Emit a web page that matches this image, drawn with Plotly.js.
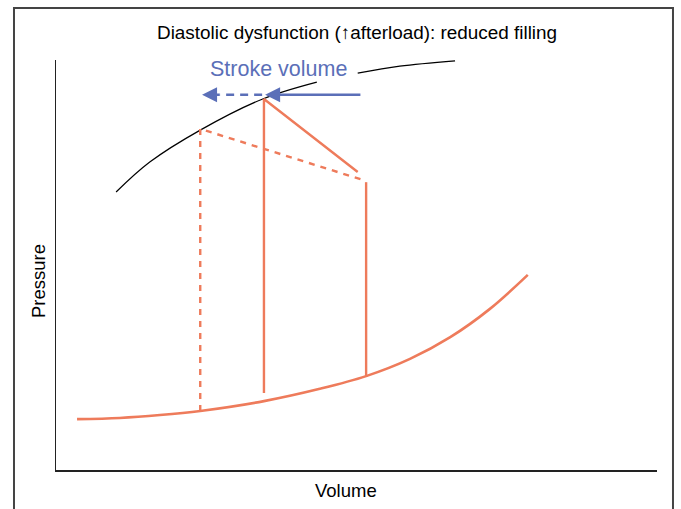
<!DOCTYPE html>
<html>
<head>
<meta charset="utf-8">
<script src="https://cdn.plot.ly/plotly-3.0.1.min.js"></script>
<style>html,body{margin:0;padding:0;background:#fff;}#chart{width:681px;height:509px;}</style>
</head>
<body>
<div id="chart"></div>
<script>
// End-diastolic pressure-volume relation (orange curve)
var edpvrVolume   = [3.5, 10.6, 17.3, 24.0, 34.6, 43.9, 51.6, 58.9, 65.6, 72.2, 78.5];
var edpvrPressure = [12.4, 12.7, 13.4, 14.4, 16.8, 19.8, 22.9, 27.1, 32.4, 39.3, 47.6];

// End-systolic pressure-volume relation (black curve, broken by the label)
var espvrVolume   = [10.0, 15.6, 24.0, 34.4, 43.4, null, 50.2, 57.2, 66.4];
var espvrPressure = [67.8, 75.1, 82.9, 90.5, 94.6, null, 96.8, 98.5, 99.8];

// Normal loop (solid): isovolumic contraction, ejection, then filling limb
var loopVolume   = [34.6, 34.6, 50.2, null, 51.6, 51.6];
var loopPressure = [18.8, 90.5, 72.7, null, 70.2, 22.7];

// Reduced-filling loop (dashed)
var reducedVolume   = [24.0, 24.0, 51.6];
var reducedPressure = [14.4, 83.2, 70.5];

// Stroke volume arrows
var svLevel = 91.5;
var svSolidFrom = 50.9, svSolidTo = 34.8;
var svDashFrom = 34.3, svDashTo = 24.3;

var titleText = "Diastolic dysfunction (\u2191afterload): reduced filling";
var xLabel = "Volume";
var yLabel = "Pressure";
var svLabel = "Stroke volume";

var orange = "#ee7b5b";
var blue = "#5b6fb8";
var font = "Liberation Sans, Arial, Helvetica, sans-serif";

var traces = [
  {x: edpvrVolume, y: edpvrPressure, mode: "lines", line: {color: orange, width: 2.6, shape: "spline"}, hoverinfo: "skip"},
  {x: espvrVolume, y: espvrPressure, mode: "lines", line: {color: "#000", width: 1.2, shape: "spline"}, connectgaps: false, hoverinfo: "skip"},
  {x: loopVolume, y: loopPressure, mode: "lines", line: {color: orange, width: 2.4}, connectgaps: false, hoverinfo: "skip"},
  {x: reducedVolume, y: reducedPressure, mode: "lines", line: {color: orange, width: 2.4, dash: "6px,6px"}, hoverinfo: "skip"},
  {x: [svDashFrom, svDashTo + 3.0], y: [svLevel, svLevel], mode: "lines", line: {color: blue, width: 2.5, dash: "8px,6px"}, hoverinfo: "skip"}
];

var layout = {
  width: 681, height: 509,
  margin: {l: 56, r: 24, t: 60, b: 39},
  paper_bgcolor: "#fff", plot_bgcolor: "#fff",
  showlegend: false,
  font: {family: font, color: "#000"},
  xaxis: {range: [0, 100], showgrid: false, zeroline: false, showticklabels: false, ticks: "",
          showline: true, linecolor: "#222", linewidth: 1.5, fixedrange: true},
  yaxis: {range: [0, 100], showgrid: false, zeroline: false, showticklabels: false, ticks: "",
          showline: true, linecolor: "#222", linewidth: 1.5, fixedrange: true},
  shapes: [
    {type: "rect", xref: "paper", yref: "paper", x0: -0.0699, x1: 1.0266, y0: -0.13, y1: 1.1268,
     line: {color: "#444", width: 2}, fillcolor: "rgba(0,0,0,0)", layer: "below"}
  ],
  annotations: [
    {xref: "paper", yref: "paper", x: (357 - 56) / 601, y: (470 - 33) / 410, text: titleText, showarrow: false,
     xanchor: "center", yanchor: "middle", font: {size: 18.9, family: font, color: "#000"}},
    {xref: "paper", yref: "paper", x: (346 - 56) / 601, y: (470 - 490) / 410, text: xLabel, showarrow: false,
     xanchor: "center", yanchor: "middle", font: {size: 18.5, family: font, color: "#000"}},
    {xref: "paper", yref: "paper", x: (38 - 56) / 601, y: (470 - 281) / 410, text: yLabel, showarrow: false, textangle: -90,
     xanchor: "center", yanchor: "middle", font: {size: 18.5, family: font, color: "#000"}},
    {xref: "x", yref: "y", x: 37.1, y: 97.8, text: svLabel, showarrow: false,
     xanchor: "center", yanchor: "middle", font: {size: 21.5, family: font, color: blue}},
    {xref: "x", yref: "y", axref: "x", ayref: "y", x: svSolidTo, y: svLevel, ax: svSolidFrom, ay: svLevel, text: "",
     showarrow: true, arrowhead: 2, arrowsize: 1.2, arrowwidth: 2.5, arrowcolor: blue},
    {xref: "x", yref: "y", axref: "x", ayref: "y", x: svDashTo, y: svLevel, ax: svDashTo + 3.2, ay: svLevel, text: "",
     showarrow: true, arrowhead: 2, arrowsize: 1.2, arrowwidth: 2.5, arrowcolor: blue}
  ]
};

Plotly.newPlot("chart", traces, layout, {staticPlot: true, displayModeBar: false});
</script>
</body>
</html>
